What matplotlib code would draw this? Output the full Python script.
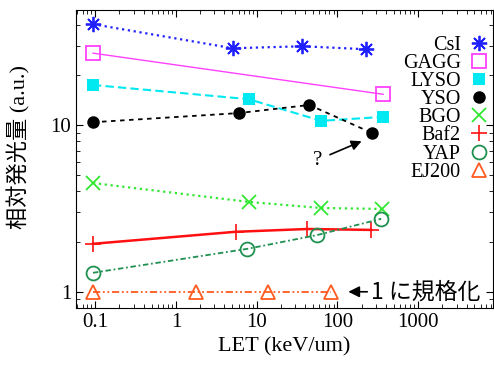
import matplotlib
matplotlib.use("Agg")
from matplotlib import pyplot as plt
from matplotlib.lines import Line2D

# LET values (keV/um) and relative light yield for each scintillator
csi_x = [0.094, 5.06, 37, 228]
csi_y = [40.3, 28.9, 29.7, 28.5]
gagg_x = [0.094, 370]
gagg_y = [27.0, 15.3]
lyso_x = [0.094, 7.96, 63.4, 370]
lyso_y = [17.4, 14.3, 10.6, 11.2]
yso_x = [0.094, 6.0, 45, 270]
yso_y = [10.4, 11.8, 13.2, 8.96]
bgo_x = [0.094, 7.96, 63.4, 360]
bgo_y = [4.49, 3.46, 3.18, 3.14]
baf2_x = [0.094, 5.5, 42.6, 263]
baf2_y = [1.94, 2.29, 2.38, 2.35]
yap_x = [0.094, 7.7, 56.7, 350]
yap_y = [1.30, 1.81, 2.19, 2.74]
ej200_x = [0.094, 1.77, 13.7, 84]
ej200_y = [1.0, 1.0, 1.0, 1.0]

x_ticks = [0.1, 1, 10, 100, 1000]
x_labels = ["0.1", "1", "10", "100", "1000"]
y_ticks = [1, 10]
y_labels = ["1", "10"]

serif = ["Liberation Serif", "Noto Sans CJK JP"]
cjk = ["Noto Sans CJK JP", "DejaVu Sans"]

fig = plt.figure(figsize=(4.94, 3.71), dpi=100)
ax = fig.add_axes([0.154, 0.170, 0.844, 0.803])
ax.set_xscale("log")
ax.set_yscale("log")

series = [
    ("CsI", csi_x, csi_y, dict(color="#2020ff", ls=":", lw=1.6, marker=(8, 2, 0), ms=11, mfc="none", mew=1.3)),
    ("GAGG", gagg_x, gagg_y, dict(color="#ff40ff", ls="-", lw=1.0, marker="s", ms=10, mfc="none", mew=1.3)),
    ("LYSO", lyso_x, lyso_y, dict(color="#00e8f0", ls=(0, (4, 2)), lw=1.5, marker="s", ms=9, mew=0)),
    ("YSO", yso_x, yso_y, dict(color="black", ls=(0, (2.5, 2.5)), lw=1.3, marker="o", ms=9, mew=0)),
    ("BGO", bgo_x, bgo_y, dict(color="#30e830", ls=":", lw=1.6, marker="x", ms=10, mew=1.3)),
    ("Baf2", baf2_x, baf2_y, dict(color="#ff1010", ls="-", lw=1.8, marker="+", ms=11, mew=1.2)),
    ("YAP", yap_x, yap_y, dict(color="#209050", ls=(0, (3, 1.5, 1, 1.5)), lw=1.3, marker="o", ms=10, mfc="none", mew=1.3)),
    ("EJ200", ej200_x, ej200_y, dict(color="#ff5a20", ls=(0, (4, 1.5, 1, 1.5, 1, 1.5)), lw=1.3, marker="^", ms=10, mfc="none", mew=1.3)),
]

handles = []
for name, xs, ys, st in series:
    ax.plot(xs, ys, **st)
    hs = dict(st)
    hs["ls"] = "none"
    handles.append(Line2D([], [], **hs))

ax.set_xlim(0.058, 8500)
ax.set_ylim(0.80, 49)

ax.set_xticks(x_ticks)
ax.set_xticklabels(x_labels, family=serif, fontsize=15)
ax.set_yticks(y_ticks)
ax.set_yticklabels(y_labels, family=serif, fontsize=15)
ax.tick_params(which="both", direction="in", top=True, right=True)
ax.tick_params(which="major", length=5)
ax.tick_params(which="minor", length=3)

ax.set_xlabel("LET (keV/um)", family=serif, fontsize=16)
ax.set_ylabel("相対発光量 (a.u.)", family=serif, fontsize=16)
ax.yaxis.set_label_coords(-0.11, 0.54)

leg = ax.legend(handles, [s[0] for s in series], loc="upper right",
                bbox_to_anchor=(1.01, 0.94), frameon=False, markerfirst=False,
                handlelength=1.0, handletextpad=0.4, labelspacing=-0.05,
                borderaxespad=0, prop={"family": serif, "size": 14.5})

ax.annotate("?", xy=(200, 8.0), xytext=(56.6, 6.17), family=serif, fontsize=15,
            ha="center", va="center",
            arrowprops=dict(arrowstyle="-|>", color="black", lw=1.2, shrinkA=4, shrinkB=0))
ax.annotate("1 に規格化", xy=(137, 1.0), xytext=(265, 1.0), family=cjk, fontsize=16.5,
            ha="left", va="center",
            arrowprops=dict(arrowstyle="-|>", color="black", lw=1.2, shrinkA=1, shrinkB=0))

fig.savefig("out.png", dpi=100)
